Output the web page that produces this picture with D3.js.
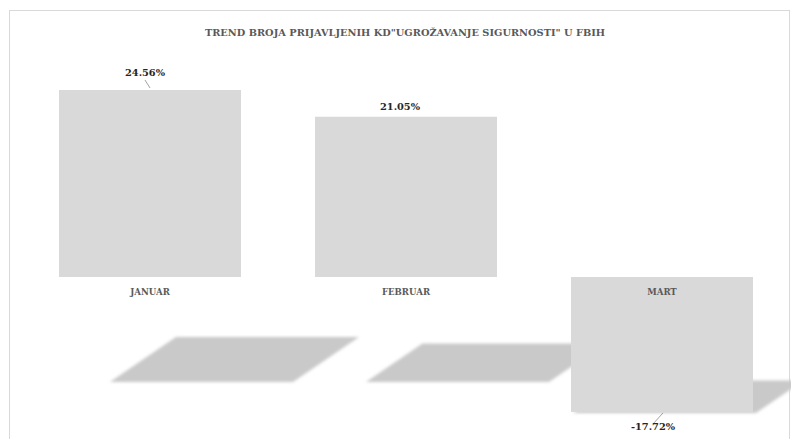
<!DOCTYPE html>
<html lang="bs">
<head>
<meta charset="UTF-8">
<title>Trend</title>
<script src="https://cdn.jsdelivr.net/npm/d3@7"></script>
<style>
  body { margin: 0; background: #fff; }
  text { font-family: "DejaVu Serif", "Liberation Serif", serif; font-weight: bold; }
</style>
</head>
<body>
<script>
    // podaci
    var months = ["JANUAR", "FEBRUAR", "MART"];
    var values = [24.56, 21.05, -17.72];
    var labels = ["24.56%", "21.05%", "-17.72%"];

    var width = 791, height = 439;
    var svg = d3.select("body").append("svg")
        .attr("width", width)
        .attr("height", height);

    // okvir grafikona
    svg.append("rect")
        .attr("x", 9.5).attr("y", 10.5)
        .attr("width", 780).attr("height", 440)
        .attr("fill", "#fff")
        .attr("stroke", "#d9d9d9");

    var x = d3.scaleBand()
        .domain(months)
        .range([22, 790])
        .paddingInner(74 / 256)
        .paddingOuter(37 / 256);

    var y = d3.scaleLinear()
        .domain([-20, 25])
        .range([277 + 7.614 * 20, 277 - 7.614 * 25]);

    // sjena (perspektivna)
    var defs = svg.append("defs");
    defs.append("filter").attr("id", "blur")
        .attr("x", "-10%").attr("y", "-30%").attr("width", "120%").attr("height", "160%")
        .append("feGaussianBlur").attr("stdDeviation", 1.6);

    function shadow(d, i) {
        var h = Math.abs(y(d) - y(0)) * 0.24;
        var bx, by;
        if (d >= 0) { bx = x(months[i]) + 51; by = y(0) + 105; }
        else { bx = x(months[i]) + 2; by = y(d) + 1; }
        var w = x.bandwidth() + 1, k = 1.47 * h;
        return "M" + bx + "," + by + "L" + (bx + w) + "," + by +
            "L" + (bx + w + k) + "," + (by - h) + "L" + (bx + k) + "," + (by - h) + "Z";
    }

    svg.append("g").selectAll("path")
        .data(values)
        .enter().append("path")
        .attr("d", shadow)
        .attr("fill", "#c9c9c9")
        .attr("filter", "url(#blur)");

    // stupci
    svg.append("g").selectAll("rect")
        .data(values)
        .enter().append("rect")
        .attr("x", function (d, i) { return x(months[i]); })
        .attr("y", function (d) { return Math.min(y(d), y(0)); })
        .attr("width", x.bandwidth())
        .attr("height", function (d) { return Math.abs(y(d) - y(0)); })
        .attr("fill", "#d9d9d9");

    // naslov
    svg.append("text")
        .attr("x", 405).attr("y", 36)
        .attr("text-anchor", "middle")
        .attr("font-size", 9.8)
        .attr("fill", "#595959")
        .text('TREND BROJA PRIJAVLJENIH KD"UGROŽAVANJE SIGURNOSTI" U FBIH');

    // nazivi mjeseci
    svg.append("g").selectAll("text")
        .data(months)
        .enter().append("text")
        .attr("x", function (d) { return x(d) + x.bandwidth() / 2; })
        .attr("y", 295)
        .attr("text-anchor", "middle")
        .attr("font-size", 8.6)
        .attr("fill", "#595959")
        .text(function (d) { return d; });

    // vrijednosti + linije
    var lblOff = [[-5, -13], [-6, -6], [-9, 17]];
    var cx = function (i) { return x(months[i]) + x.bandwidth() / 2; };

    svg.append("g").selectAll("line")
        .data(values)
        .enter().filter(function (d, i) { return i !== 1; })
        .append("line")
        .attr("x1", function (d) { return d >= 0 ? cx(0) - 5 : cx(2) + 1; })
        .attr("y1", function (d) { return d >= 0 ? y(d) - 10 : y(d) + 1; })
        .attr("x2", function (d) { return d >= 0 ? cx(0) : cx(2) - 8; })
        .attr("y2", function (d) { return d >= 0 ? y(d) - 2 : y(d) + 11; })
        .attr("stroke", "#8c8c8c")
        .attr("stroke-width", 0.8);

    svg.append("g").selectAll("text")
        .data(values)
        .enter().append("text")
        .attr("x", function (d, i) { return cx(i) + lblOff[i][0]; })
        .attr("y", function (d, i) { return y(d) + lblOff[i][1] + (d >= 0 ? -1 : 1); })
        .attr("text-anchor", "middle")
        .attr("font-size", 9.8)
        .attr("fill", "#262626")
        .text(function (d, i) { return labels[i]; });
</script>
</body>
</html>
